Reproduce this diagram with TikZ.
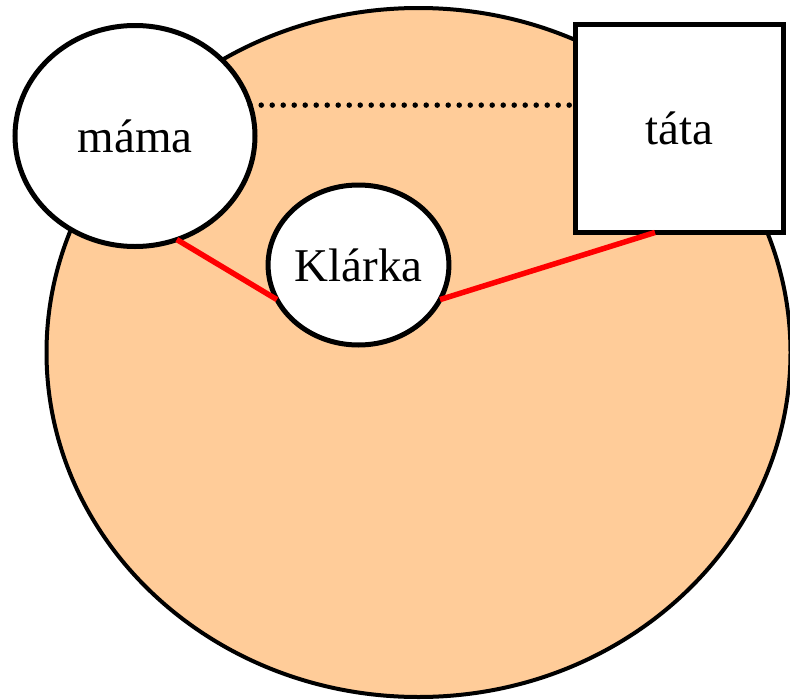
\documentclass[tikz,border=0pt]{standalone}
\usepackage{fontspec}
\setmainfont{Liberation Serif}
\usetikzlibrary{shapes.geometric}
\definecolor{peach}{HTML}{FFCC99}
\begin{document}
\begin{tikzpicture}[x=1pt, y=-1pt,
  person/.style={draw, line width=5pt, fill=white, inner sep=0pt, outer sep=0pt,
    font=\fontsize{47}{56}\selectfont},
  tie/.style={red, line width=5.5pt}]
\useasboundingbox (0,0) rectangle (790,699);
\draw[fill=peach, line width=4pt] (418.5,352.5) ellipse [x radius=372, y radius=344.5];
\node[person, ellipse, minimum width=240pt, minimum height=221pt] (mama) at (135,136) {máma};
\node[person, ellipse, minimum width=175pt, minimum height=160pt] (klarka) at (358.5,265) {Klárka};
\node[person, rectangle, minimum size=208pt] (tata) at (679,128.5) {táta};
\draw[line width=5.5pt, line cap=round, dash pattern=on 0pt off 11pt] (mama.15) -- (mama.15 -| tata.west);
\draw[tie] (mama.-68) -- (klarka.203);
\draw[tie] (klarka.-23) -- (tata.257);
\end{tikzpicture}
\end{document}
